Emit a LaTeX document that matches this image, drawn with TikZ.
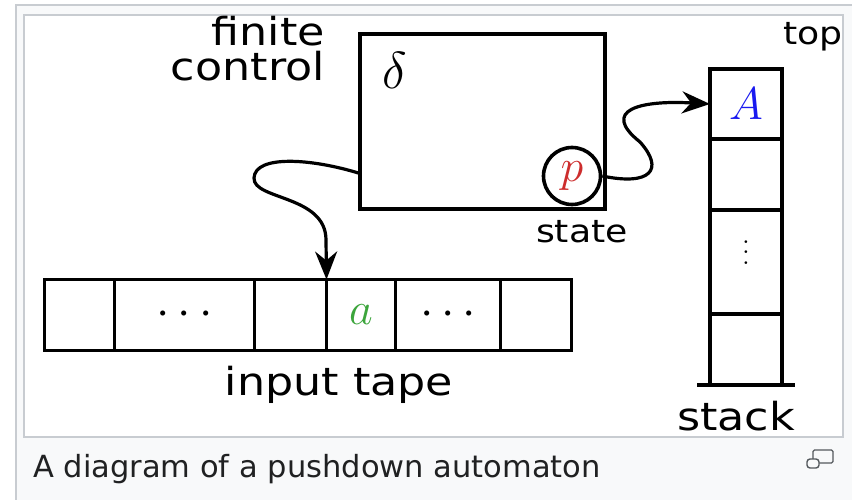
\RequirePackage{fix-cm}
\documentclass[tikz,border=0pt]{standalone}
\usepackage{fontspec}
\usepackage{graphicx}
\usetikzlibrary{arrows.meta, positioning}
\newfontfamily\lblfont[FakeStretch=1.15]{DejaVu Sans}
\newfontfamily\capfont{DejaVu Sans}
\definecolor{statered}{RGB}{205, 45, 45}
\definecolor{stackblue}{RGB}{25, 25, 240}
\definecolor{tapegreen}{RGB}{60, 165, 60}
\definecolor{pagebg}{HTML}{F8F9FA}
\definecolor{framegray}{HTML}{C8CCD1}
\definecolor{captext}{HTML}{202122}
\definecolor{icongray}{HTML}{54595D}

\begin{document}
\begin{tikzpicture}[
        x=1pt, y=-1pt,
        cell/.style={rectangle, draw, line width=3.8pt, outer sep=0pt, inner sep=0pt,
                     minimum height=71pt},
        lbl/.style={font=\lblfont\fontsize{38.6}{35}\selectfont, inner sep=0pt},
        smalllbl/.style={font=\lblfont\fontsize{31.5}{31.5}\selectfont, inner sep=0pt},
        sym/.style={font=\fontsize{46}{46}\selectfont, inner sep=0pt},
        arrow/.style={-{Stealth[length=28pt, width=22pt, inset=9pt]}, line width=3.2pt},
    ]
        \useasboundingbox (0,0) rectangle (852,500);
        \clip (0,0) rectangle (852,500);
        \fill[white] (0,0) rectangle (852,500);
        \draw[framegray, fill=pagebg, line width=1.2pt] (16,5) rectangle (870,520);
        \draw[framegray, fill=white, line width=1.2pt] (24,15) rectangle (843,437);

        \node[draw, line width=3.8pt, outer sep=0pt, minimum width=245pt, minimum height=175pt] (fc) at (482.5,121.5) {};
        \node[anchor=base, inner sep=0pt, font=\fontsize{52}{52}\selectfont] (delta) at (395,89) {$\delta$};
        \node[sym, draw, circle, line width=3.6pt, minimum size=57pt, text=statered] (p) at (572,176) {$p$};

        \node[cell, minimum width=72pt, minimum height=70pt] (s1) at (746,104) {\fontsize{46}{46}\selectfont\color{stackblue}$A$};
        \node[cell, minimum width=72pt, below=0pt of s1] (s2) {};
        \node[cell, minimum width=72pt, minimum height=104pt, below=0pt of s2] (s3) {\raisebox{-2pt}[0pt][0pt]{\scalebox{2.6}{$\vdots$}}};
        \node[cell, minimum width=72pt, below=0pt of s3] (s4) {};
        \draw[line width=3.8pt] ([xshift=-13pt]s4.south west) -- ([xshift=13pt]s4.south east);

        \node[cell, minimum width=70pt] (t1) at (79.5,315) {};
        \node[cell, minimum width=140pt, right=0pt of t1] (t2) {\fontsize{48}{48}\selectfont$\cdots$};
        \node[cell, minimum width=72pt, right=0pt of t2] (t3) {};
        \node[cell, minimum width=69pt, right=0pt of t3] (t4) {\fontsize{46}{46}\selectfont\color{tapegreen}$a$};
        \node[cell, minimum width=105pt, right=0pt of t4] (t5) {\fontsize{48}{48}\selectfont$\cdots$};
        \node[cell, minimum width=71pt, right=0pt of t5] (t6) {};

        \draw[arrow] (fc.203) .. controls (310,158) and (255,155) .. (254,178)
            .. controls (253,200) and (326,195) .. (326,240) -- (t4.north west);
        \draw[arrow] (p.east) .. controls (650,186) and (665,170) .. (640,142)
            .. controls (600,110) and (640,100) .. (s1.west);

        \node[lbl, align=right, anchor=north east] (fclbl) at (325,15.5) {finite\\control};
        \node[smalllbl, anchor=base] (statelbl) at (582,242) {state};
        \node[smalllbl, anchor=base] (toplbl) at (813,45) {top};
        \node[lbl, anchor=base] (stacklbl) at (736,430) {stack};
        \node[lbl, anchor=base] (tapelbl) at (339,395) {input tape};

        \node[font=\capfont\fontsize{30.5}{30.5}\selectfont, text=captext, anchor=base west, inner sep=0pt] (caption) at (33,477) {A diagram of a pushdown automaton};
        \draw[icongray, line width=1.4pt, rounded corners=1.5pt] (813,450) rectangle (833,463);
        \draw[icongray, line width=1.4pt, fill=pagebg, rounded corners=3pt] (807,459) rectangle (819,468);
    \end{tikzpicture}
\end{document}
